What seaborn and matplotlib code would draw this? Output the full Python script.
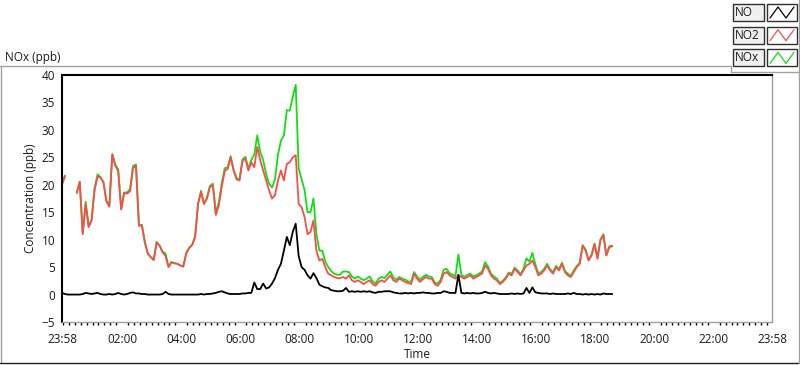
import numpy as np
import pandas as pd
import seaborn as sns
import matplotlib.pyplot as plt
from matplotlib.lines import Line2D
from matplotlib.patches import Rectangle
from matplotlib.ticker import FixedLocator

nan = np.nan

# 6-minute samples starting at 23:58
no = [0.3, 0.1, 0.0, 0.0, 0.0, 0.0, 0.0, 0.1, 0.3, 0.2, 0.1, 0.2, 0.3, 0.1, 0.0, 0.0,
      0.1, 0.0, 0.1, 0.3, 0.1, 0.0, 0.1, 0.3, 0.4, 0.2, 0.2, 0.1, 0.1, 0.0, 0.0, 0.0,
      0.0, 0.0, 0.1, 0.5, 0.1, 0.0, 0.0, 0.0, 0.0, 0.0, 0.0, 0.0, 0.0, 0.0, 0.0, 0.1,
      0.0, 0.1, 0.1, 0.2, 0.3, 0.5, 0.6, 0.4, 0.2, 0.1, 0.1, 0.1, 0.1, 0.2, 0.2, 0.3,
      0.3, 2.2, 1.0, 1.0, 2.0, 1.1, 1.3, 2.0, 3.0, 4.5, 5.6, 8.0, 10.5, 9.0, 11.4, 12.9,
      7.0, 5.0, 4.5, 3.5, 2.9, 3.9, 3.0, 1.8, 1.5, 1.3, 1.2, 0.8, 0.7, 0.6, 0.6,
      0.7, 1.2, 0.5, 0.6, 0.5, 0.6, 0.5, 0.6, 0.5, 0.6, 0.4, 0.3, 0.5, 0.5, 0.6, 0.6,
      0.6, 0.4, 0.3, 0.2, 0.2, 0.3, 0.2, 0.3, 0.2, 0.3, 0.3, 0.4, 0.3, 0.3, 0.2, 0.2,
      0.3, 0.3, 0.6, 0.5, 0.3, 0.3, 0.3, 3.6, 0.3, 0.2, 0.3, 0.2, 0.3, 0.2, 0.2, 0.3,
      0.5, 0.3, 0.2, 0.3, 0.2, 0.1, 0.1, 0.1, 0.1, 0.2, 0.1, 0.2, 0.1, 0.2, 1.2, 0.3,
      1.3, 0.4, 0.3, 0.2, 0.2, 0.2, 0.1, 0.2, 0.1, 0.1, 0.1, 0.1, 0.2, 0.1, 0.3, 0.1,
      0.1, 0.0, 0.1, 0.0, 0.1, 0.0, 0.1, 0.0, 0.2, 0.1, 0.1, 0.1]

no2 = [20.0, 21.5, nan, 19.3, nan, 18.5, 20.5, 11.0, 16.5, 12.3, 13.5, 19.0, 21.5, 21.3,
       20.5, 17.0, 16.0, 25.5, 23.5, 22.5, 15.5, 18.5, 18.4, 18.8, 23.0, 23.5, 12.5, 12.6,
       9.5, 7.5, 6.8, 6.3, 9.5, 8.9, 7.7, 7.0, 5.0, 5.9, 5.7, 5.6, 5.3, 5.1, 7.5, 8.5,
       9.0, 10.5, 16.5, 18.7, 16.5, 17.5, 19.6, 19.9, 14.5, 16.2, 19.6, 22.5, 22.9, 25.0,
       22.6, 21.0, 20.8, 24.3, 24.8, 22.6, 24.1, 23.2, 26.9, 24.5, 22.6, 20.8, 19.0, 17.5,
       18.1, 20.8, 22.6, 20.8, 23.8, 24.1, 25.0, 25.4, 16.5, 15.9, 14.1, 11.0, 11.4, 13.5,
       8.0, 6.2, 6.5, 5.0, 3.8, 3.5, 3.2, 3.0, 3.0,
       3.2, 2.9, 3.5, 2.6, 2.3, 2.6, 2.3, 1.9, 2.3, 2.6, 1.9, 1.6, 2.3, 2.6, 2.3, 2.9,
       3.5, 2.6, 2.3, 2.9, 2.6, 2.3, 2.1, 1.9, 3.8, 2.9, 2.3, 2.8, 3.2, 2.9, 2.9, 1.9,
       1.6, 2.3, 3.8, 4.1, 3.5, 3.2, 2.9, 3.5, 3.2, 2.9, 3.2, 3.5, 2.9, 3.2, 3.5, 3.8,
       5.3, 4.7, 3.5, 2.9, 2.6, 1.9, 2.3, 2.9, 3.8, 3.5, 4.7, 4.1, 3.5, 4.4, 5.3, 5.6,
       6.2, 5.0, 3.5, 3.8, 4.4, 5.3, 4.4, 3.8, 5.0, 4.4, 5.6, 4.1, 3.5, 3.2, 4.1, 5.0,
       5.6, 8.9, 8.0, 6.2, 7.1, 9.2, 6.5, 9.9, 10.8, 7.1, 8.6, 8.8]

nox = [20.3, 21.7, nan, 19.4, nan, 18.6, 20.6, 11.2, 16.9, 12.5, 13.6, 19.3, 21.9, 21.4,
       20.5, 17.1, 16.2, 25.6, 23.7, 22.8, 15.6, 18.6, 18.6, 19.2, 23.4, 23.7, 12.7, 12.7,
       9.6, 7.5, 6.8, 6.3, 9.6, 8.9, 7.8, 7.5, 5.1, 5.9, 5.7, 5.6, 5.3, 5.1, 7.6, 8.5,
       9.1, 10.6, 16.6, 18.9, 16.5, 17.7, 19.8, 20.2, 14.9, 16.8, 20.3, 23.0, 23.2, 25.2,
       22.8, 21.2, 21.0, 24.6, 25.1, 22.9, 24.5, 25.5, 29.0, 26.0, 24.5, 22.0, 20.2, 19.5,
       21.0, 25.5, 28.0, 29.0, 33.6, 33.5, 36.0, 38.2, 23.0, 21.0, 19.0, 15.0, 15.0, 17.5,
       11.0, 8.0, 8.0, 6.0, 5.0, 4.3, 3.8, 3.6, 3.6,
       4.2, 4.2, 4.1, 3.3, 2.9, 3.3, 2.9, 2.6, 2.9, 3.3, 2.4, 2.0, 2.9, 3.2, 3.0, 3.6,
       4.2, 3.1, 2.7, 3.2, 2.9, 2.7, 2.4, 2.3, 4.1, 3.3, 2.7, 3.2, 3.6, 3.3, 3.2, 2.2,
       2.0, 2.7, 4.5, 4.7, 3.9, 3.6, 3.3, 7.3, 3.6, 3.2, 3.6, 3.8, 3.3, 3.5, 3.8, 4.2,
       5.9, 5.1, 3.8, 3.3, 2.9, 2.1, 2.5, 3.1, 4.0, 3.8, 4.9, 4.4, 3.7, 4.7, 6.6, 6.0,
       7.6, 5.5, 3.9, 4.1, 4.7, 5.6, 4.6, 4.1, 5.2, 4.6, 5.8, 4.3, 3.8, 3.4, 4.4, 5.2,
       5.8, 9.0, 8.2, 6.3, 7.3, 9.3, 6.7, 10.0, 11.0, 7.2, 8.8, 8.9]

minutes = np.arange(len(no)) * 6
tick_pos = [0, 122, 242, 362, 482, 602, 722, 842, 962, 1082, 1202, 1322, 1440]
tick_lab = ["23:58", "02:00", "04:00", "06:00", "08:00", "10:00", "12:00",
            "14:00", "16:00", "18:00", "20:00", "22:00", "23:58"]

series = ["NOx", "NO2", "NO"]
colors = {"NOx": "#10e010", "NO2": "#ff4a4a", "NO": "#000000"}

frames = []
for name, vals in [("NOx", nox), ("NO2", no2), ("NO", no)]:
    d = pd.DataFrame({"t": minutes, "v": vals, "s": name})
    d["seg"] = d["v"].isna().cumsum()
    frames.append(d.dropna())
df = pd.concat(frames, ignore_index=True)

sns.set_style("white")
plt.rcParams["font.family"] = ["Open Sans", "DejaVu Sans"]
plt.rcParams["font.size"] = 8.5
txt = "#1a1a1a"

fig = plt.figure(figsize=(8, 3.65), dpi=100)
ax = fig.add_axes([62 / 800, 1 - 322 / 365, 710 / 800, 247 / 365])

for name in series:
    sns.lineplot(data=df[df.s == name], x="t", y="v", units="seg", estimator=None,
                 color=colors[name], linewidth=1.3, ax=ax, legend=False)

ax.set_xlim(0, 1440)
ax.set_ylim(-5, 40)
ax.set_yticks(range(-5, 41, 5))
ax.set_xticks(tick_pos)
ax.set_xticklabels(tick_lab, color=txt)
ax.xaxis.set_minor_locator(FixedLocator(np.arange(2, 1440, 12)))
ax.tick_params(axis="y", direction="out", length=4, width=1, color="black", labelcolor=txt, pad=1)
ax.tick_params(axis="x", which="major", direction="out", length=4, width=1.5, color="black", labelcolor=txt, pad=4)
ax.tick_params(axis="x", which="minor", direction="out", length=2, width=1, color="black", bottom=True)
ax.set_xlabel("Time", color=txt)
ax.set_ylabel("Concentration (ppb)", color=txt, labelpad=3)
ax.xaxis.set_label_coords(0.5, -0.105)

for side in ["top", "left"]:
    ax.spines[side].set_color("black")
    ax.spines[side].set_linewidth(1.5)
for side in ["right", "bottom"]:
    ax.spines[side].set_color("#a0a0a0")
    ax.spines[side].set_linewidth(1)

# panel frame
W, H = 800, 365
def fx(x): return x / W
def fy(y): return 1 - y / H
fig.add_artist(Line2D([fx(0), fx(731)], [fy(66), fy(66)], color="#a0a0a0", lw=1))
fig.add_artist(Line2D([fx(1), fx(1)], [fy(66), fy(362)], color="#a0a0a0", lw=1))
fig.add_artist(Line2D([fx(0), fx(799)], [fy(362.5), fy(362.5)], color="#202020", lw=1))
fig.add_artist(Line2D([fx(798.5), fx(798.5)], [fy(0), fy(362.5)], color="#a0a0a0", lw=1))
fig.add_artist(Line2D([fx(731), fx(798)], [fy(72), fy(72)], color="#a0a0a0", lw=1))
fig.add_artist(Line2D([fx(731), fx(731)], [fy(66), fy(72)], color="#a0a0a0", lw=1))
fig.text(fx(5), fy(57), "NOx (ppb)", color=txt, va="center", ha="left")

# legend
for row, name in enumerate(["NO", "NO2", "NOx"]):
    y0 = 4 + row * 22.7
    fig.add_artist(Rectangle((fx(733), fy(y0 + 17)), 31 / W, 17 / H, transform=fig.transFigure,
                             facecolor="#f0f0f0", edgecolor="#303030", lw=1))
    fig.text(fx(735), fy(y0 + 8.5), name, color=txt, va="center", ha="left", fontsize=8.5)
    fig.add_artist(Rectangle((fx(767), fy(y0 + 17)), 30 / W, 17 / H, transform=fig.transFigure,
                             facecolor="white", edgecolor="#303030", lw=1))
    zx = [770, 778, 786, 794]
    zy = [y0 + 14, y0 + 3, y0 + 14, y0 + 3]
    fig.add_artist(Line2D([fx(v) for v in zx], [fy(v) for v in zy], color=colors[name], lw=0.9))

fig.savefig("out.png", dpi=100)
